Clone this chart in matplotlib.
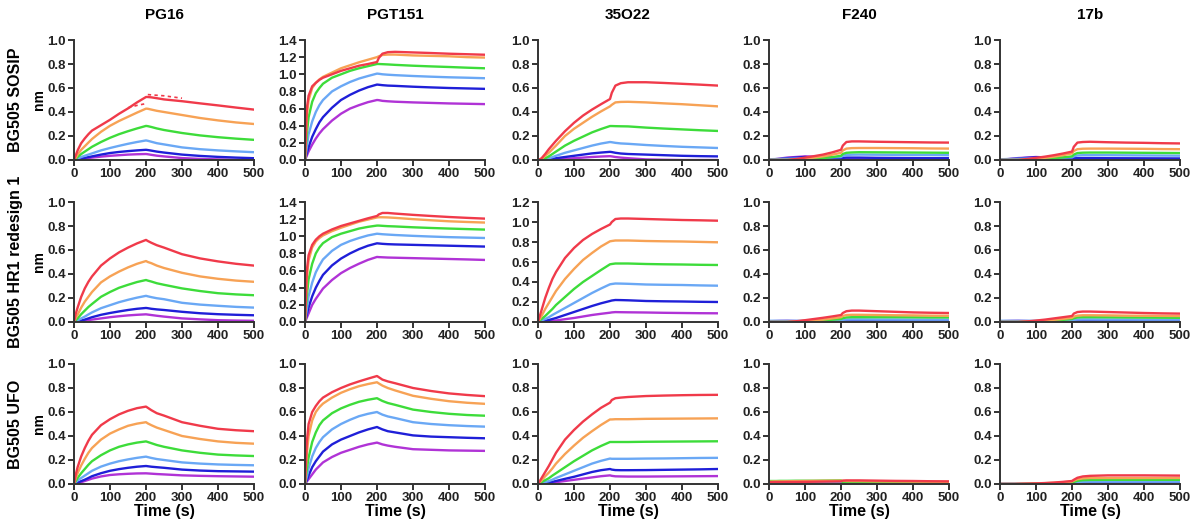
import numpy as np
import matplotlib.pyplot as plt

plt.rcParams['font.family'] = ['Liberation Sans', 'DejaVu Sans']
plt.rcParams['font.weight'] = 'bold'

# time points (s) at which the traces were read
t = [0, 5, 10, 20, 30, 40, 50, 75, 100, 125, 150, 175, 200,
     205, 215, 230, 250, 300, 350, 400, 450, 500]

antibodies = ["PG16", "PGT151", "35O22", "F240", "17b"]
constructs = ["BG505 SOSIP", "BG505 HR1 redesign 1", "BG505 UFO"]
colors = ["#f03a4a", "#f7a255", "#3ddc3a", "#6aa8f5", "#1f1fd8", "#b033d6"]
ylims = [[1.0, 1.4, 1.0, 1.0, 1.0],
         [1.0, 1.4, 1.2, 1.0, 1.0],
         [1.0, 1.0, 1.0, 1.0, 1.0]]

# --- BG505 SOSIP ---  (rows: red, orange, green, light blue, blue, purple)
sosip_pg16 = [
    [0, .04, .08, .14, .18, .215, .245, .29, .335, .385, .43, .48, .525, .525, .522, .515, .505, .49, .472, .455, .437, .42],
    [0, .02, .045, .085, .115, .145, .175, .235, .285, .325, .36, .395, .428, .427, .42, .41, .40, .375, .35, .33, .313, .30],
    [0, .01, .025, .05, .07, .09, .11, .15, .185, .215, .24, .263, .284, .282, .275, .263, .25, .225, .205, .19, .178, .168],
    [0, .005, .012, .025, .035, .045, .055, .08, .10, .118, .135, .15, .163, .16, .152, .14, .13, .105, .09, .08, .072, .065],
    [0, .003, .006, .012, .018, .024, .03, .045, .058, .067, .074, .08, .085, .083, .078, .07, .062, .045, .034, .026, .02, .015],
    [0, .002, .004, .008, .012, .016, .02, .028, .035, .04, .045, .048, .05, .048, .043, .036, .03, .016, .009, .005, .002, 0],
]
fit_t_assoc = [150, 175, 200]
fit_assoc = [0.435, 0.455, 0.47]
fit_t_dissoc = [205, 250, 300]
fit_dissoc = [0.545, 0.535, 0.515]

sosip_pgt151 = [
    [0, .6, .75, .86, .9, .935, .96, 1.0, 1.04, 1.07, 1.10, 1.12, 1.143, 1.19, 1.24, 1.258, 1.262, 1.255, 1.248, 1.24, 1.234, 1.228],
    [0, .5, .7, .84, .9, .94, .97, 1.02, 1.07, 1.105, 1.14, 1.17, 1.20, 1.21, 1.225, 1.23, 1.23, 1.22, 1.215, 1.21, 1.2, 1.195],
    [0, .3, .5, .68, .78, .84, .89, .96, 1.0, 1.04, 1.07, 1.095, 1.12, 1.12, 1.118, 1.115, 1.11, 1.10, 1.092, 1.085, 1.077, 1.07],
    [0, .15, .3, .45, .56, .64, .70, .80, .86, .91, .95, .98, 1.008, 1.006, 1.0, .995, .99, .98, .972, .965, .96, .954],
    [0, .08, .15, .27, .36, .44, .50, .61, .70, .76, .81, .85, .88, .878, .873, .868, .865, .855, .847, .84, .835, .83],
    [0, .05, .1, .18, .25, .31, .36, .46, .54, .60, .64, .675, .70, .698, .69, .685, .68, .672, .666, .66, .656, .652],
]
sosip_35o22 = [
    [0, .005, .015, .05, .09, .125, .16, .24, .31, .37, .42, .465, .508, .56, .62, .64, .648, .648, .642, .635, .628, .62],
    [0, .004, .01, .035, .06, .09, .12, .20, .26, .31, .36, .405, .447, .46, .48, .484, .485, .48, .472, .465, .456, .447],
    [0, .002, .006, .015, .03, .05, .07, .12, .16, .195, .23, .258, .283, .283, .282, .281, .28, .27, .262, .255, .248, .242],
    [0, .001, .003, .008, .014, .024, .035, .06, .08, .10, .12, .137, .15, .148, .143, .138, .135, .125, .117, .11, .105, .10],
    [0, 0, .001, .003, .006, .01, .015, .025, .035, .045, .055, .062, .068, .066, .06, .054, .05, .045, .04, .035, .032, .03],
    [0, 0, 0, .001, .003, .004, .006, .01, .015, .02, .025, .029, .032, .03, .025, .02, .015, .005, .002, 0, 0, 0],
]
sosip_f240 = [
    [0, 0, 0, 0, 0, 0, 0, .008, .02, .032, .045, .063, .085, .12, .15, .155, .155, .152, .15, .148, .146, .145],
    [0, 0, 0, 0, 0, 0, 0, .004, .01, .02, .03, .044, .06, .08, .095, .099, .10, .10, .099, .098, .096, .095],
    [0, 0, 0, 0, 0, 0, 0, .002, .005, .01, .015, .024, .035, .05, .06, .063, .065, .064, .063, .062, .061, .06],
    [.005, .006, .007, .008, .009, .0095, .01, .012, .015, .018, .02, .022, .025, .035, .042, .044, .045, .044, .043, .042, .041, .04],
    [0, .002, .003, .006, .008, .012, .015, .02, .025, .022, .02, .017, .015, .018, .02, .02, .02, .018, .017, .016, .015, .015],
    [0, .002, .004, .008, .012, .016, .02, .025, .03, .028, .025, .022, .02, .012, .01, .009, .008, .007, .0065, .006, .0055, .005],
]
sosip_17b = [
    [0, 0, 0, 0, 0, 0, 0, .008, .018, .028, .04, .054, .07, .11, .145, .15, .152, .148, .145, .143, .14, .138],
    [0, 0, 0, 0, 0, 0, 0, .004, .01, .018, .028, .04, .055, .075, .09, .094, .095, .095, .094, .093, .091, .09],
    [0, 0, 0, 0, 0, 0, 0, .002, .005, .01, .015, .022, .03, .045, .058, .061, .062, .062, .061, .06, .059, .058],
    [.005, .006, .007, .008, .009, .0095, .01, .012, .014, .016, .018, .02, .022, .03, .038, .04, .04, .04, .039, .038, .037, .036],
    [0, .002, .003, .006, .008, .01, .013, .018, .022, .02, .018, .016, .014, .015, .016, .016, .016, .015, .0145, .014, .0135, .013],
    [0, .002, .004, .007, .01, .013, .016, .02, .025, .022, .02, .017, .015, .01, .008, .0075, .007, .006, .0055, .005, .005, .005],
]

# --- BG505 HR1 redesign 1 ---
hr1_pg16 = [
    [0, .07, .12, .21, .28, .335, .38, .47, .53, .58, .62, .655, .684, .675, .66, .64, .62, .565, .53, .505, .485, .47],
    [0, .035, .06, .12, .17, .21, .25, .33, .38, .42, .455, .485, .508, .50, .49, .47, .45, .41, .38, .36, .345, .335],
    [0, .015, .03, .065, .095, .125, .15, .21, .25, .285, .31, .333, .35, .345, .337, .323, .31, .28, .258, .24, .23, .223],
    [0, .006, .013, .03, .045, .063, .08, .115, .14, .165, .185, .203, .218, .214, .207, .198, .19, .16, .145, .135, .126, .12],
    [0, .002, .005, .012, .02, .03, .04, .06, .075, .088, .10, .11, .117, .115, .11, .105, .10, .085, .073, .065, .06, .056],
    [0, .001, .003, .007, .011, .016, .02, .03, .04, .048, .055, .06, .064, .062, .058, .052, .045, .03, .022, .015, .012, .01],
]
hr1_pgt151 = [
    [0, .6, .78, .9, .96, 1.0, 1.03, 1.08, 1.12, 1.15, 1.18, 1.21, 1.237, 1.255, 1.272, 1.272, 1.265, 1.25, 1.237, 1.225, 1.215, 1.206],
    [0, .5, .72, .87, .94, .98, 1.01, 1.06, 1.10, 1.135, 1.17, 1.195, 1.22, 1.222, 1.222, 1.22, 1.215, 1.20, 1.187, 1.175, 1.167, 1.16],
    [0, .3, .5, .68, .8, .87, .92, .99, 1.03, 1.06, 1.09, 1.11, 1.125, 1.125, 1.122, 1.118, 1.115, 1.105, 1.097, 1.09, 1.084, 1.078],
    [0, .15, .3, .46, .58, .66, .73, .83, .90, .945, .98, 1.01, 1.03, 1.028, 1.024, 1.02, 1.015, 1.005, .997, .99, .985, .98],
    [0, .09, .17, .30, .40, .48, .55, .66, .74, .80, .85, .89, .918, .916, .912, .908, .905, .90, .895, .89, .885, .88],
    [0, .05, .10, .20, .27, .33, .39, .49, .57, .63, .68, .725, .759, .757, .755, .752, .75, .745, .74, .735, .73, .724],
]
hr1_35o22 = [
    [0, .06, .12, .24, .34, .43, .50, .64, .74, .82, .88, .93, .975, 1.0, 1.03, 1.035, 1.035, 1.03, 1.025, 1.02, 1.017, 1.013],
    [0, .03, .06, .13, .19, .25, .31, .43, .53, .62, .69, .755, .807, .81, .815, .815, .815, .81, .807, .805, .801, .797],
    [0, .015, .03, .06, .095, .13, .17, .25, .33, .40, .46, .52, .577, .58, .585, .585, .585, .58, .577, .575, .572, .57],
    [0, .007, .015, .03, .048, .07, .09, .14, .19, .24, .29, .335, .377, .38, .385, .384, .382, .375, .372, .37, .366, .363],
    [0, .002, .005, .012, .02, .03, .04, .07, .10, .13, .16, .187, .21, .215, .22, .219, .217, .21, .207, .205, .202, .2],
    [0, .001, .002, .005, .008, .011, .015, .028, .04, .055, .07, .082, .093, .096, .099, .098, .097, .095, .092, .09, .088, .087],
]
hr1_f240 = [
    [0, 0, 0, 0, 0, 0, 0, .006, .015, .025, .035, .046, .058, .075, .09, .095, .095, .09, .085, .08, .077, .075],
    [0, 0, 0, 0, 0, 0, 0, .004, .01, .015, .02, .03, .04, .05, .058, .06, .06, .058, .056, .055, .053, .052],
    [0, 0, 0, 0, 0, 0, 0, .002, .005, .009, .013, .019, .025, .032, .038, .04, .04, .04, .04, .039, .038, .038],
    [.01, .01, .01, .01, .01, .01, .01, .01, .01, .011, .012, .013, .015, .018, .021, .022, .022, .021, .021, .02, .02, .02],
    [0, 0, 0, 0, .001, .001, .001, .002, .002, .003, .003, .004, .005, .005, .005, .005, .005, .005, .005, .005, .005, .005],
    [.005, .006, .007, .008, .009, .0095, .01, .008, .005, .003, .002, .001, 0, 0, 0, 0, 0, 0, 0, 0, 0, 0],
]
hr1_17b = [
    [0, 0, 0, 0, 0, 0, 0, .005, .012, .02, .03, .04, .05, .07, .083, .087, .087, .083, .079, .075, .072, .07],
    [0, 0, 0, 0, 0, 0, 0, .003, .008, .012, .018, .026, .035, .045, .053, .056, .056, .055, .053, .052, .051, .05],
    [0, 0, 0, 0, 0, 0, 0, .002, .004, .008, .012, .018, .025, .032, .038, .04, .04, .039, .038, .037, .036, .035],
    [.01, .01, .01, .01, .01, .01, .01, .01, .01, .011, .012, .013, .015, .018, .021, .022, .022, .021, .021, .02, .02, .02],
    [0, 0, 0, 0, .001, .0015, .002, .003, .004, .0045, .005, .005, .005, .005, .005, .005, .005, .005, .005, .005, .005, .005],
    [.005, .006, .007, .008, .009, .0095, .01, .008, .005, .003, .002, .001, 0, 0, 0, 0, 0, 0, 0, 0, 0, 0],
]

# --- BG505 UFO ---
ufo_pg16 = [
    [0, .08, .14, .23, .30, .36, .41, .49, .54, .58, .61, .632, .645, .635, .615, .59, .57, .515, .485, .46, .448, .44],
    [0, .05, .09, .155, .21, .26, .30, .37, .42, .455, .485, .503, .515, .505, .49, .47, .45, .40, .375, .355, .343, .336],
    [0, .025, .05, .09, .125, .16, .19, .24, .28, .31, .33, .345, .355, .35, .34, .325, .31, .28, .26, .245, .238, .233],
    [0, .015, .03, .05, .07, .09, .11, .145, .17, .19, .205, .218, .228, .224, .217, .208, .20, .18, .17, .163, .159, .156],
    [0, .005, .01, .024, .036, .05, .065, .09, .11, .124, .135, .144, .15, .148, .144, .14, .135, .12, .112, .107, .105, .103],
    [0, .003, .005, .015, .025, .035, .045, .063, .075, .081, .085, .088, .089, .088, .086, .083, .08, .072, .068, .065, .063, .061],
]
ufo_pgt151 = [
    [0, .35, .5, .6, .65, .69, .72, .765, .80, .83, .855, .878, .90, .89, .87, .855, .84, .80, .775, .755, .742, .732],
    [0, .25, .4, .53, .6, .64, .67, .72, .76, .79, .815, .833, .848, .838, .82, .80, .78, .735, .71, .69, .677, .668],
    [0, .12, .22, .35, .43, .49, .53, .59, .63, .66, .685, .702, .715, .707, .692, .675, .66, .62, .60, .585, .575, .569],
    [0, .06, .13, .23, .30, .35, .39, .455, .50, .535, .565, .585, .60, .592, .578, .563, .55, .515, .50, .49, .483, .478],
    [0, .03, .07, .14, .19, .23, .27, .33, .37, .40, .43, .455, .475, .468, .455, .44, .43, .405, .395, .39, .385, .381],
    [0, .02, .04, .08, .12, .15, .18, .225, .26, .285, .31, .33, .345, .34, .33, .32, .31, .29, .285, .28, .278, .276],
]
ufo_35o22 = [
    [0, .025, .05, .1, .15, .205, .26, .37, .45, .52, .58, .635, .678, .70, .715, .72, .725, .733, .737, .74, .742, .743],
    [0, .015, .03, .065, .095, .13, .17, .25, .32, .385, .44, .492, .538, .538, .54, .54, .54, .543, .544, .545, .546, .547],
    [0, .008, .016, .032, .048, .07, .09, .14, .19, .235, .28, .317, .35, .35, .35, .35, .35, .352, .353, .354, .355, .356],
    [0, .004, .008, .016, .024, .036, .05, .08, .11, .14, .17, .193, .212, .21, .21, .21, .21, .212, .213, .215, .217, .218],
    [0, .002, .004, .008, .012, .018, .025, .043, .06, .08, .10, .115, .125, .12, .116, .115, .115, .116, .118, .12, .122, .125],
    [0, .001, .002, .004, .006, .01, .015, .025, .035, .045, .055, .065, .072, .068, .064, .063, .062, .062, .063, .064, .065, .066],
]
ufo_f240 = [
    [.015, .015, .015, .016, .016, .016, .017, .017, .018, .019, .02, .021, .022, .028, .03, .03, .03, .028, .026, .025, .023, .022],
    [.02, .02, .021, .022, .022, .022, .023, .024, .025, .026, .027, .0275, .028, .026, .025, .024, .024, .022, .021, .02, .019, .018],
    [.025, .025, .025, .025, .026, .026, .026, .027, .027, .027, .028, .029, .03, .015, .01, .01, .01, .009, .0085, .008, .008, .008],
    [.01, .01, .01, .011, .011, .011, .012, .013, .013, .013, .014, .0145, .015, .012, .01, .009, .008, .007, .0065, .006, .0055, .005],
    [.005, .005, .005, .005, .005, .005, .005, .005, .005, .005, .005, .005, .005, .004, .003, .003, .003, .002, .002, .002, .002, .002],
    [0, 0, .001, .002, .003, .0035, .004, .006, .008, .009, .01, .01, 0, 0, 0, 0, 0, 0, 0, 0, 0, 0],
]
ufo_17b = [
    [0, 0, 0, 0, 0, 0, .001, .003, .005, .008, .012, .018, .025, .035, .052, .063, .068, .072, .072, .072, .071, .07],
    [0, 0, 0, 0, 0, 0, .001, .002, .004, .007, .01, .015, .02, .028, .04, .047, .05, .05, .05, .05, .05, .05],
    [0, 0, 0, 0, 0, 0, 0, .001, .002, .003, .005, .007, .01, .017, .027, .032, .034, .035, .035, .035, .035, .035],
    [0, 0, 0, 0, 0, 0, 0, 0, .001, .002, .003, .004, .005, .01, .016, .019, .02, .02, .02, .02, .02, .02],
    [0, 0, 0, 0, 0, 0, 0, 0, 0, .0005, .001, .0015, .002, .003, .004, .0045, .005, .005, .005, .005, .005, .005],
    [0, 0, 0, 0, 0, 0, 0, 0, 0, 0, 0, 0, 0, 0, 0, 0, 0, 0, 0, 0, 0, 0],
]

panels = [[sosip_pg16, sosip_pgt151, sosip_35o22, sosip_f240, sosip_17b],
          [hr1_pg16, hr1_pgt151, hr1_35o22, hr1_f240, hr1_17b],
          [ufo_pg16, ufo_pgt151, ufo_35o22, ufo_f240, ufo_17b]]

W, H = 1198, 529
fig = plt.figure(figsize=(W / 100, H / 100), dpi=100)

col_left = [74, 305, 538, 769, 1000]
row_top = [40, 202, 364]
ax_w, ax_h = 180, 120

for r in range(3):
    for c in range(5):
        ax = fig.add_axes([col_left[c] / W, 1 - (row_top[r] + ax_h) / H, ax_w / W, ax_h / H])
        curves = panels[r][c]
        # draw lowest concentration first so red ends on top
        for k in range(len(curves) - 1, -1, -1):
            ax.plot(t, curves[k], color=colors[k], lw=1.7, solid_joinstyle='round')
        if r == 0 and c == 0:
            ax.plot(fit_t_assoc, fit_assoc, color=colors[0], lw=1.2, ls=(0, (2, 2)))
            ax.plot(fit_t_dissoc, fit_dissoc, color=colors[0], lw=1.2, ls=(0, (2, 2)))
        ymax = ylims[r][c]
        ax.set_xlim(0, 500)
        ax.set_ylim(0, ymax)
        ax.set_xticks(np.arange(0, 501, 100))
        ax.set_yticks(np.arange(0, ymax + 0.01, 0.2))
        ax.yaxis.set_major_formatter(plt.FormatStrFormatter('%.1f'))
        for s in ['top', 'right']:
            ax.spines[s].set_visible(False)
        for s in ['left', 'bottom']:
            ax.spines[s].set_linewidth(1.4)
            ax.spines[s].set_color('#333333')
        ax.tick_params(direction='out', length=4, width=1.4, color='#333333',
                       labelsize=9.5, pad=2)
        for lab in ax.get_xticklabels() + ax.get_yticklabels():
            lab.set_fontweight('bold')
            lab.set_color('#222222')
        if r == 2:
            ax.set_xlabel("Time (s)", fontsize=11.5, fontweight='bold', labelpad=0)
        if r == 0:
            fig.text((col_left[c] + ax_w / 2) / W, 1 - 15 / H, antibodies[c],
                     ha='center', va='center', fontsize=11, fontweight='bold')
    yc = 1 - (row_top[r] + ax_h / 2) / H
    fig.text(16 / W, yc, constructs[r], rotation=90, ha='center', va='center',
             fontsize=11.5, fontweight='bold')
    fig.text(39 / W, yc, "nm", rotation=90, ha='center', va='center',
             fontsize=10, fontweight='bold')

fig.savefig("out.png", dpi=100, facecolor='white')
